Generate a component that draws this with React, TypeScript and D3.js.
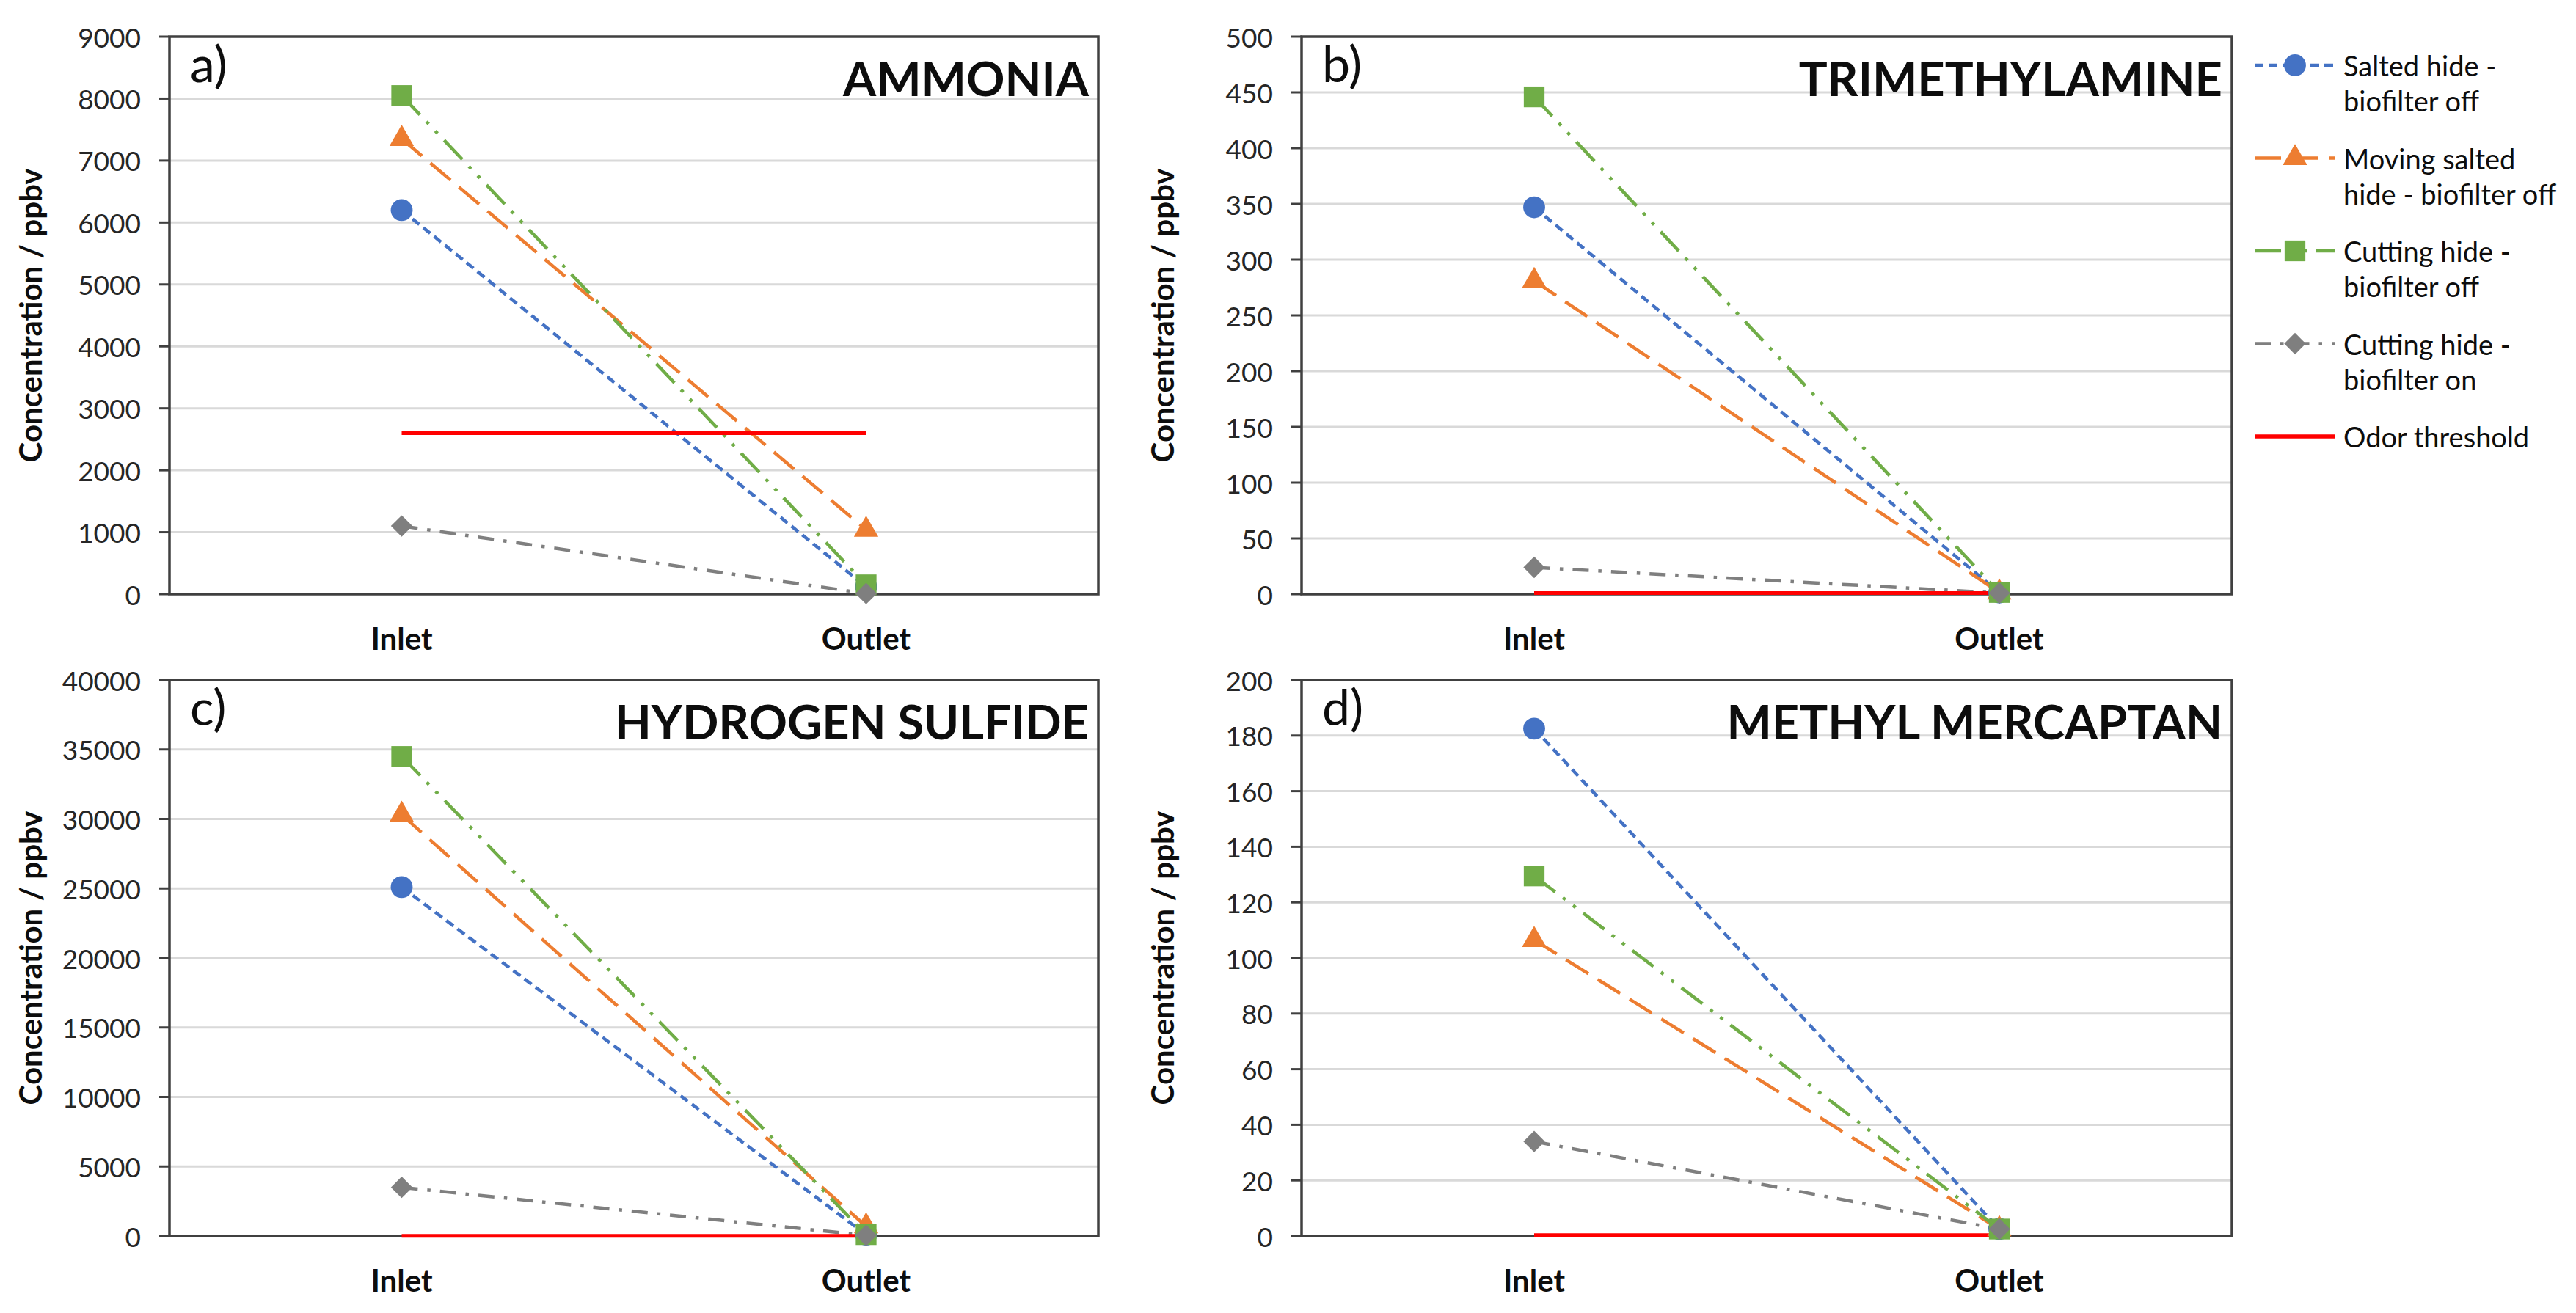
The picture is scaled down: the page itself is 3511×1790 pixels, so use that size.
import React from "react";
import * as d3 from "d3";

// ---------- data ----------
const categories = ["Inlet", "Outlet"];
const compounds = ["AMMONIA", "TRIMETHYLAMINE", "HYDROGEN SULFIDE", "METHYL MERCAPTAN"];
const panelLetters = ["a)", "b)", "c)", "d)"];
const yMaxima = [9000, 500, 40000, 200];
const yTickSteps = [1000, 50, 5000, 20];

// values per panel: [Inlet, Outlet]
const saltedHideOff = [[6200, 120], [347, 1.5], [25100, 100], [182.5, 2.5]];
const movingSaltedHideOff = [[7350, 1040], [281, 1.5], [30300, 700], [106.5, 2.5]];
const cuttingHideOff = [[8050, 150], [446, 1.5], [34500, 100], [129.5, 2.5]];
const cuttingHideOn = [[1100, 10], [24, 1], [3500, 50], [34, 2.5]];
const odorThreshold = [[2600, 2600], [1, 1], [10, 10], [0.3, 0.3]];

const seriesNames = [
  ["Salted hide -", "biofilter off"],
  ["Moving salted", "hide - biofilter off"],
  ["Cutting hide -", "biofilter off"],
  ["Cutting hide -", "biofilter on"],
  ["Odor threshold"],
];

// ---------- styling / layout ----------
const W = 3511;
const H = 1790;
const FONT = "Lato, 'Open Sans', sans-serif";
const LW = 4.5;

const panelBoxes = [
  { left: 231, right: 1497, top: 50, bottom: 810 },
  { left: 1774, right: 3042, top: 50, bottom: 810 },
  { left: 231, right: 1497, top: 927, bottom: 1685 },
  { left: 1774, right: 3042, top: 927, bottom: 1685 },
];

type Marker = "circle" | "triangle" | "square" | "diamond" | "none";
const seriesStyles: { color: string; dash: string; marker: Marker }[] = [
  { color: "#4472C4", dash: "12 7", marker: "circle" },
  { color: "#ED7D31", dash: "36 15", marker: "triangle" },
  { color: "#70AD47", dash: "36 13 4.5 13 4.5 13", marker: "square" },
  { color: "#7F7F7F", dash: "22 13 4.5 13", marker: "diamond" },
  { color: "#FF0000", dash: "none", marker: "none" },
];

const seriesData = [saltedHideOff, movingSaltedHideOff, cuttingHideOff, cuttingHideOn, odorThreshold];

function symbolPath(m: Marker): string {
  if (m === "circle") return d3.symbol(d3.symbolCircle, 700)() as string;
  if (m === "triangle") return d3.symbol(d3.symbolTriangle, 480)() as string;
  if (m === "square") return d3.symbol(d3.symbolSquare, 800)() as string;
  if (m === "diamond") return d3.symbol(d3.symbolSquare, 430)() as string;
  return "";
}

function MarkerShape({ m, x, y, color }: { m: Marker; x: number; y: number; color: string }) {
  if (m === "none") return null;
  const rot = m === "diamond" ? " rotate(45)" : "";
  return <path d={symbolPath(m)} transform={`translate(${x},${y})${rot}`} fill={color} />;
}

function Panel({ i }: { i: number }) {
  const box = panelBoxes[i];
  const x = d3.scalePoint<string>().domain(categories).range([box.left, box.right]).padding(0.5);
  const y = d3.scaleLinear().domain([0, yMaxima[i]]).range([box.bottom, box.top]);
  const ticks = d3.range(0, yMaxima[i] + yTickSteps[i] / 2, yTickSteps[i]);
  const line = d3
    .line<number>()
    .x((_, k) => x(categories[k]) as number)
    .y((v) => y(v));
  const fmt = d3.format("d");
  const midY = (box.top + box.bottom) / 2;
  return (
    <g>
      {ticks
        .filter((t) => t > 0 && t < yMaxima[i])
        .map((t) => (
          <line key={"g" + t} x1={box.left} x2={box.right} y1={y(t)} y2={y(t)} stroke="#D9D9D9" strokeWidth={3} />
        ))}
      <rect
        x={box.left}
        y={box.top}
        width={box.right - box.left}
        height={box.bottom - box.top}
        fill="none"
        stroke="#404040"
        strokeWidth={3.5}
      />
      {ticks.map((t) => (
        <g key={"t" + t}>
          <line x1={box.left - 14} x2={box.left} y1={y(t)} y2={y(t)} stroke="#404040" strokeWidth={3} />
          <text
            x={box.left - 39}
            y={y(t)}
            textAnchor="end"
            dominantBaseline="central"
            fontFamily={FONT}
            fontSize={37}
            fill="#262626"
          >
            {fmt(t)}
          </text>
        </g>
      ))}
      {categories.map((c) => (
        <text
          key={c}
          x={x(c)}
          y={box.bottom + 60}
          textAnchor="middle"
          dominantBaseline="central"
          fontFamily={FONT}
          fontWeight="bold"
          fontSize={42}
          fill="#0d0d0d"
        >
          {c}
        </text>
      ))}
      <text
        transform={`translate(${box.left - 190},${midY}) rotate(-90)`}
        textAnchor="middle"
        dominantBaseline="central"
        fontFamily={FONT}
        fontWeight="bold"
        fontSize={42}
        fill="#0d0d0d"
      >
        Concentration / ppbv
      </text>
      <text x={box.left + 28} y={box.top + 62} fontFamily={FONT} fontSize={68} fill="#0d0d0d">
        {panelLetters[i]}
      </text>
      <text
        x={box.right - 13}
        y={box.top + 81}
        textAnchor="end"
        fontFamily={FONT}
        fontWeight="bold"
        fontSize={65}
        fill="#0d0d0d"
      >
        {compounds[i]}
      </text>
      {seriesData.map((s, k) => (
        <path
          key={"l" + k}
          d={line(s[i]) as string}
          fill="none"
          stroke={seriesStyles[k].color}
          strokeWidth={k === 4 ? 5 : LW}
          strokeDasharray={seriesStyles[k].dash}
        />
      ))}
      {seriesData.map((s, k) =>
        s[i].map((v, j) => (
          <MarkerShape
            key={"m" + k + "-" + j}
            m={seriesStyles[k].marker}
            x={x(categories[j]) as number}
            y={y(v)}
            color={seriesStyles[k].color}
          />
        ))
      )}
    </g>
  );
}

function Legend() {
  const x0 = 3073;
  const x1 = 3182;
  const xm = 3128;
  const xt = 3194;
  const y0 = 89;
  const step = 126.5;
  return (
    <g>
      {seriesNames.map((name, k) => {
        const yy = y0 + k * step;
        const st = seriesStyles[k];
        return (
          <g key={k}>
            <line
              x1={x0}
              x2={x1}
              y1={yy}
              y2={yy}
              stroke={st.color}
              strokeWidth={k === 4 ? 5.5 : LW}
              strokeDasharray={st.dash}
            />
            <MarkerShape m={st.marker} x={xm} y={yy} color={st.color} />
            {name.map((ln, r) => (
              <text
                key={r}
                x={xt}
                y={yy + r * 48}
                dominantBaseline="central"
                fontFamily={FONT}
                fontSize={38}
                fill="#0d0d0d"
              >
                {ln}
              </text>
            ))}
          </g>
        );
      })}
    </g>
  );
}

export default function App() {
  return (
    <svg
      width={W}
      height={H}
      viewBox={`0 0 ${W} ${H}`}
      style={{ position: "absolute", left: 0, top: 0, background: "#ffffff" }}
    >
      <rect x={0} y={0} width={W} height={H} fill="#ffffff" />
      {panelBoxes.map((_, i) => (
        <Panel key={i} i={i} />
      ))}
      <Legend />
    </svg>
  );
}
